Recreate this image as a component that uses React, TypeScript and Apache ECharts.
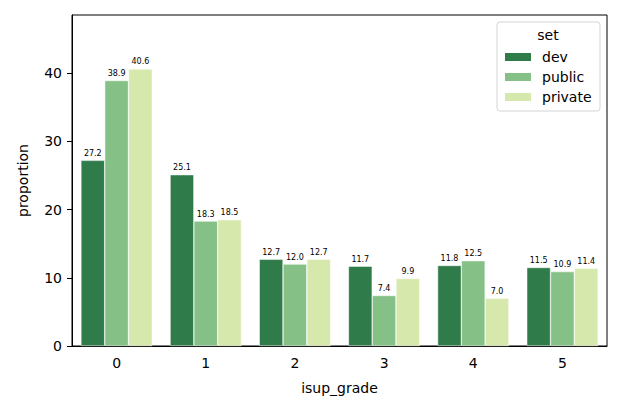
import React, { useEffect, useRef } from "react";
import * as echarts from "echarts";

const categories = ["0", "1", "2", "3", "4", "5"];
const seriesNames = ["dev", "public", "private"];
const devValues = [27.2, 25.1, 12.7, 11.7, 11.8, 11.5];
const publicValues = [38.9, 18.3, 12.0, 7.4, 12.5, 10.9];
const privateValues = [40.6, 18.5, 12.7, 9.9, 7.0, 11.4];
const colors = ["#2f7b49", "#85c086", "#d7e8ac"];

const FONT = "DejaVu Sans";

export default function App() {
  const ref = useRef<HTMLDivElement>(null);
  useEffect(() => {
    document.body.style.margin = "0";
    if (!ref.current) return;
    const chart = echarts.init(ref.current, undefined, { renderer: "svg" });
    const values = [devValues, publicValues, privateValues];
    const option: any = {
      animation: false,
      textStyle: { fontFamily: FONT },
      grid: {
        left: 72,
        right: 16,
        top: 15,
        bottom: 69,
        show: true,
        borderColor: "#000",
        borderWidth: 1,
        backgroundColor: "transparent",
      },
      graphic: [
        {
          type: "rect",
          shape: { x: 497, y: 22, width: 103, height: 89, r: 3 },
          style: { fill: "rgba(255,255,255,0.8)", stroke: "#d4d4d4", lineWidth: 1 },
          z: 10,
        },
        {
          type: "text",
          x: 548,
          y: 35,
          style: {
            text: "set",
            fontFamily: FONT,
            fontSize: 14,
            fill: "#000",
            align: "center",
            verticalAlign: "middle",
          },
          z: 11,
        },
      ],
      legend: {
        orient: "vertical",
        left: 503,
        top: 50,
        padding: 0,
        itemWidth: 28,
        itemHeight: 10,
        itemGap: 6,
        icon: "rect",
        data: seriesNames,
        textStyle: { fontFamily: FONT, fontSize: 14, color: "#000", padding: [0, 0, 0, 5] },
        z: 12,
      },
      xAxis: {
        type: "category",
        data: categories,
        name: "isup_grade",
        nameLocation: "middle",
        nameGap: 35,
        nameTextStyle: { fontFamily: FONT, fontSize: 14, color: "#000" },
        axisLine: { lineStyle: { color: "#000", width: 1 } },
        axisTick: { alignWithLabel: true, length: 5, lineStyle: { color: "#000" } },
        axisLabel: { fontFamily: FONT, fontSize: 14, color: "#000", margin: 10 },
      },
      yAxis: {
        type: "value",
        min: 0,
        max: 48.5,
        interval: 10,
        name: "proportion",
        nameLocation: "middle",
        nameGap: 42,
        nameTextStyle: { fontFamily: FONT, fontSize: 14, color: "#000" },
        axisLine: { show: true, lineStyle: { color: "#000", width: 1 } },
        axisTick: { show: true, length: 5, lineStyle: { color: "#000" } },
        axisLabel: { fontFamily: FONT, fontSize: 14, color: "#000", margin: 10, showMaxLabel: false },
        splitLine: { show: false },
      },
      series: seriesNames.map((name, i) => ({
        name,
        type: "bar",
        data: values[i],
        barGap: "0%",
        barCategoryGap: "20%",
        itemStyle: { color: colors[i], borderColor: "#fff", borderWidth: 0.5 },
        label: {
          show: true,
          position: "top",
          distance: 3,
          fontFamily: FONT,
          fontSize: 8,
          color: "#000",
          formatter: (p: any) => Number(p.value).toFixed(1),
        },
      })),
    };
    chart.setOption(option);
    return () => chart.dispose();
  }, []);
  return <div ref={ref} style={{ width: 623, height: 415 }} />;
}
